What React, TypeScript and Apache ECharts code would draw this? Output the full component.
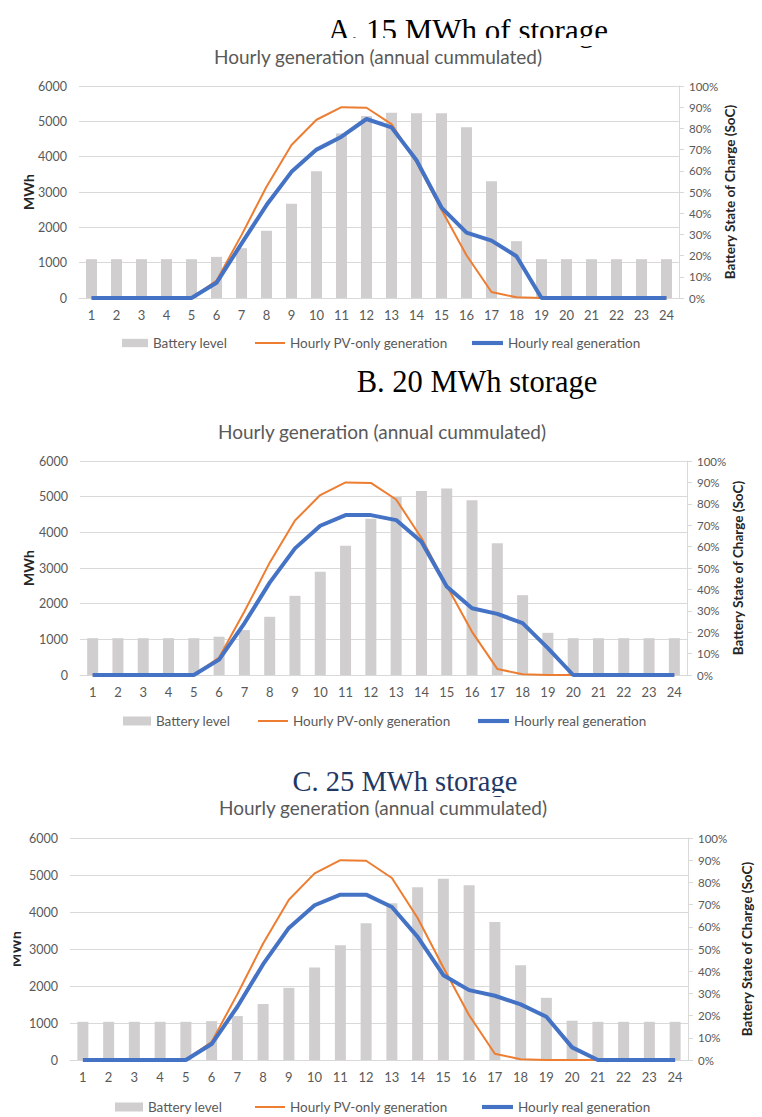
import React, { useEffect, useRef } from 'react';
import * as echarts from 'echarts';

// Hour of day (x axis categories)
const hours = ['1', '2', '3', '4', '5', '6', '7', '8', '9', '10', '11', '12', '13', '14', '15', '16', '17', '18', '19', '20', '21', '22', '23', '24'];

// Hourly PV-only generation (MWh, annual cumulated) – same PV plant in every scenario
const pvOnly = [0, 0, 0, 0, 0, 490, 1780, 3150, 4330, 5045, 5400, 5385, 4920, 3840, 2500, 1210, 170, 20, 0, 0, 0, 0, 0, 0];

// Hourly real generation (MWh) for each storage size
const realA = [0, 0, 0, 0, 0, 430, 1540, 2630, 3570, 4200, 4565, 5066, 4830, 3900, 2560, 1850, 1625, 1180, 0, 0, 0, 0, 0, 0];
const realB = [0, 0, 0, 0, 0, 430, 1450, 2590, 3550, 4185, 4483, 4483, 4343, 3737, 2480, 1873, 1715, 1454, 755, 0, 0, 0, 0, 0];
const realC = [0, 0, 0, 0, 0, 432, 1439, 2590, 3570, 4182, 4469, 4469, 4137, 3327, 2293, 1888, 1736, 1502, 1169, 342, 0, 0, 0, 0];

// Battery state of charge (%) for each storage size
const socA = [18.3, 18.3, 18.3, 18.3, 18.3, 19.4, 23.5, 31.7, 44.4, 59.8, 77.6, 85.8, 87.4, 87.1, 87.1, 80.5, 55.1, 26.8, 18.3, 18.3, 18.3, 18.3, 18.3, 18.3];
const socB = [17.2, 17.2, 17.2, 17.2, 17.2, 17.9, 21.0, 27.2, 37.0, 48.3, 60.4, 73.0, 83.2, 86.0, 87.1, 81.7, 61.6, 37.3, 19.7, 17.2, 17.2, 17.2, 17.2, 17.2];
const socC = [17.2, 17.2, 17.2, 17.2, 17.2, 17.5, 19.8, 25.2, 32.5, 41.7, 51.7, 61.6, 70.6, 77.8, 81.7, 78.7, 62.2, 42.7, 28.0, 17.7, 17.2, 17.2, 17.2, 17.2];

const panelHeaders = ['A. 15 MWh of storage', 'B. 20 MWh storage', 'C. 25 MWh storage'];
const chartTitle = 'Hourly generation (annual cummulated)';
const seriesNames = ['Battery level', 'Hourly PV-only generation', 'Hourly real generation'];
const leftAxisName = 'MWh';
const rightAxisName = 'Battery State of Charge (SoC)';

const FONT = 'Lato, "Noto Sans", sans-serif';
const SERIF = '"Liberation Serif", "DejaVu Serif", serif';
const TEXT = '#595959';
const GRID = '#d9d9d9';
const BAR = '#d0cece';
const ORANGE = '#ed7d31';
const BLUE = '#4472c4';

// legend icons: a filled block for the bars, thin/thick strokes for the lines
const legendIcons = ['path://M0,0H28V9H0Z', 'path://M0,0H30V2H0Z', 'path://M0,0H30V4H0Z'];

type Layout = {
  grid: { left: number; top: number; width: number; height: number };
  header: { x: number; y: number; size: number; color: string; coverY: number; coverH: number };
  title: { x: number; y: number };
  legendY: number;
  legendX: number[];
  legendW: number[];
  leftGap: number;
  rightGap: number;
};

const layouts: Layout[] = [
  {
    grid: { left: 79, top: 86, width: 600, height: 212 },
    header: { x: 468, y: 30, size: 31, color: '#000000', coverY: 38, coverH: 8 },
    title: { x: 378, y: 56 },
    legendY: 345,
    legendX: [122, 255, 472],
    legendW: [26, 30, 31],
    leftGap: 44,
    rightGap: 44,
  },
  {
    grid: { left: 80, top: 461, width: 607, height: 214 },
    header: { x: 477, y: 382, size: 30.5, color: '#000000', coverY: 0, coverH: 0 },
    title: { x: 382, y: 431 },
    legendY: 723,
    legendX: [123, 258, 478],
    legendW: [28, 30, 31],
    leftGap: 45,
    rightGap: 44,
  },
  {
    grid: { left: 70, top: 838, width: 628, height: 222 },
    header: { x: 405, y: 781, size: 28.5, color: '#1f3864', coverY: 793, coverH: 3 },
    title: { x: 383, y: 807 },
    legendY: 1109,
    legendX: [115, 255, 482],
    legendW: [28, 30, 31],
    leftGap: 48,
    rightGap: 52,
  },
];

const socData = [socA, socB, socC];
const realData = [realA, realB, realC];

function buildOption() {
  const grid: any[] = [];
  const xAxis: any[] = [];
  const yAxis: any[] = [];
  const series: any[] = [];
  const legend: any[] = [];
  const graphic: any[] = [];

  layouts.forEach((L, i) => {
    grid.push({ ...L.grid, containLabel: false });
    xAxis.push({
      type: 'category',
      gridIndex: i,
      data: hours,
      boundaryGap: true,
      axisLine: { show: true, lineStyle: { color: GRID, width: 1 } },
      axisTick: { show: false },
      axisLabel: { color: TEXT, fontFamily: FONT, fontSize: 13, margin: 10, interval: 0 },
    });
    yAxis.push({
      type: 'value',
      gridIndex: i,
      min: 0,
      max: 6000,
      interval: 1000,
      position: 'left',
      name: leftAxisName,
      nameLocation: 'middle',
      nameGap: L.leftGap,
      nameRotate: 90,
      nameMoveOverlap: false,
      nameTextStyle: { color: '#262626', fontFamily: FONT, fontWeight: 'bold', fontSize: 14 },
      axisLine: { show: false },
      axisTick: { show: false },
      splitLine: { show: true, lineStyle: { color: GRID, width: 1 } },
      axisLabel: { color: TEXT, fontFamily: FONT, fontSize: 12.5, margin: 12, formatter: (v: number) => String(v) },
    });
    yAxis.push({
      type: 'value',
      gridIndex: i,
      min: 0,
      max: 100,
      interval: 10,
      position: 'right',
      name: rightAxisName,
      nameLocation: 'middle',
      nameGap: L.rightGap,
      nameRotate: 90,
      nameMoveOverlap: false,
      nameTextStyle: { color: '#262626', fontFamily: FONT, fontWeight: 'bold', fontSize: 13.5 },
      axisLine: { show: true, lineStyle: { color: GRID, width: 1 } },
      axisTick: { show: true, length: 5, lineStyle: { color: GRID } },
      splitLine: { show: false },
      axisLabel: { color: TEXT, fontFamily: FONT, fontSize: 11.5, margin: 10, formatter: '{value}%' },
    });

    series.push({
      name: seriesNames[0],
      type: 'bar',
      xAxisIndex: i,
      yAxisIndex: i * 2 + 1,
      data: socData[i],
      barWidth: 11,
      itemStyle: { color: BAR },
      z: 1,
    });
    series.push({
      name: seriesNames[1],
      type: 'line',
      xAxisIndex: i,
      yAxisIndex: i * 2,
      data: pvOnly,
      symbol: 'none',
      lineStyle: { color: ORANGE, width: 2 },
      itemStyle: { color: ORANGE },
      z: 2,
    });
    series.push({
      name: seriesNames[2],
      type: 'line',
      xAxisIndex: i,
      yAxisIndex: i * 2,
      data: realData[i],
      symbol: 'none',
      lineStyle: { color: BLUE, width: 4 },
      itemStyle: { color: BLUE },
      z: 3,
    });

    seriesNames.forEach((name, k) => {
      legend.push({
        left: L.legendX[k] - 5,
        top: L.legendY - 14,
        itemWidth: L.legendW[k],
        itemHeight: 9,
        itemGap: 0,
        selectedMode: false,
        data: [{ name, icon: legendIcons[k] }],
        textStyle: { color: TEXT, fontFamily: FONT, fontSize: 13.5 },
      });
    });

    graphic.push({
      type: 'text',
      x: L.header.x,
      y: L.header.y,
      z: 1,
      style: {
        text: panelHeaders[i],
        font: `${L.header.size}px ${SERIF}`,
        fill: L.header.color,
        textAlign: 'center',
        textVerticalAlign: 'middle',
      },
    });
    if (L.header.coverH > 0) {
      graphic.push({
        type: 'rect',
        z: 5,
        shape: { x: L.header.x - 180, y: L.header.coverY, width: 360, height: L.header.coverH },
        style: { fill: '#ffffff' },
      });
    }
    graphic.push({
      type: 'text',
      x: L.title.x,
      y: L.title.y,
      z: 6,
      style: {
        text: chartTitle,
        font: `19px ${FONT}`,
        fill: TEXT,
        textAlign: 'center',
        textVerticalAlign: 'middle',
      },
    });
  });

  // the left margin crops the lower panel's unit label
  graphic.push({
    type: 'rect',
    z: 100,
    shape: { x: 0, y: 925, width: 13.5, height: 45 },
    style: { fill: '#ffffff' },
  });

  return {
    animation: false,
    backgroundColor: '#ffffff',
    grid,
    xAxis,
    yAxis,
    series,
    legend,
    graphic,
  };
}

export default function App() {
  const ref = useRef<HTMLDivElement>(null);
  useEffect(() => {
    if (!ref.current) return;
    const chart = echarts.init(ref.current, undefined, { renderer: 'svg' });
    chart.setOption(buildOption() as any);
    return () => chart.dispose();
  }, []);
  return (
    <div
      ref={ref}
      style={{ position: 'absolute', left: 0, top: 0, width: 762, height: 1117, background: '#fff' }}
    />
  );
}
